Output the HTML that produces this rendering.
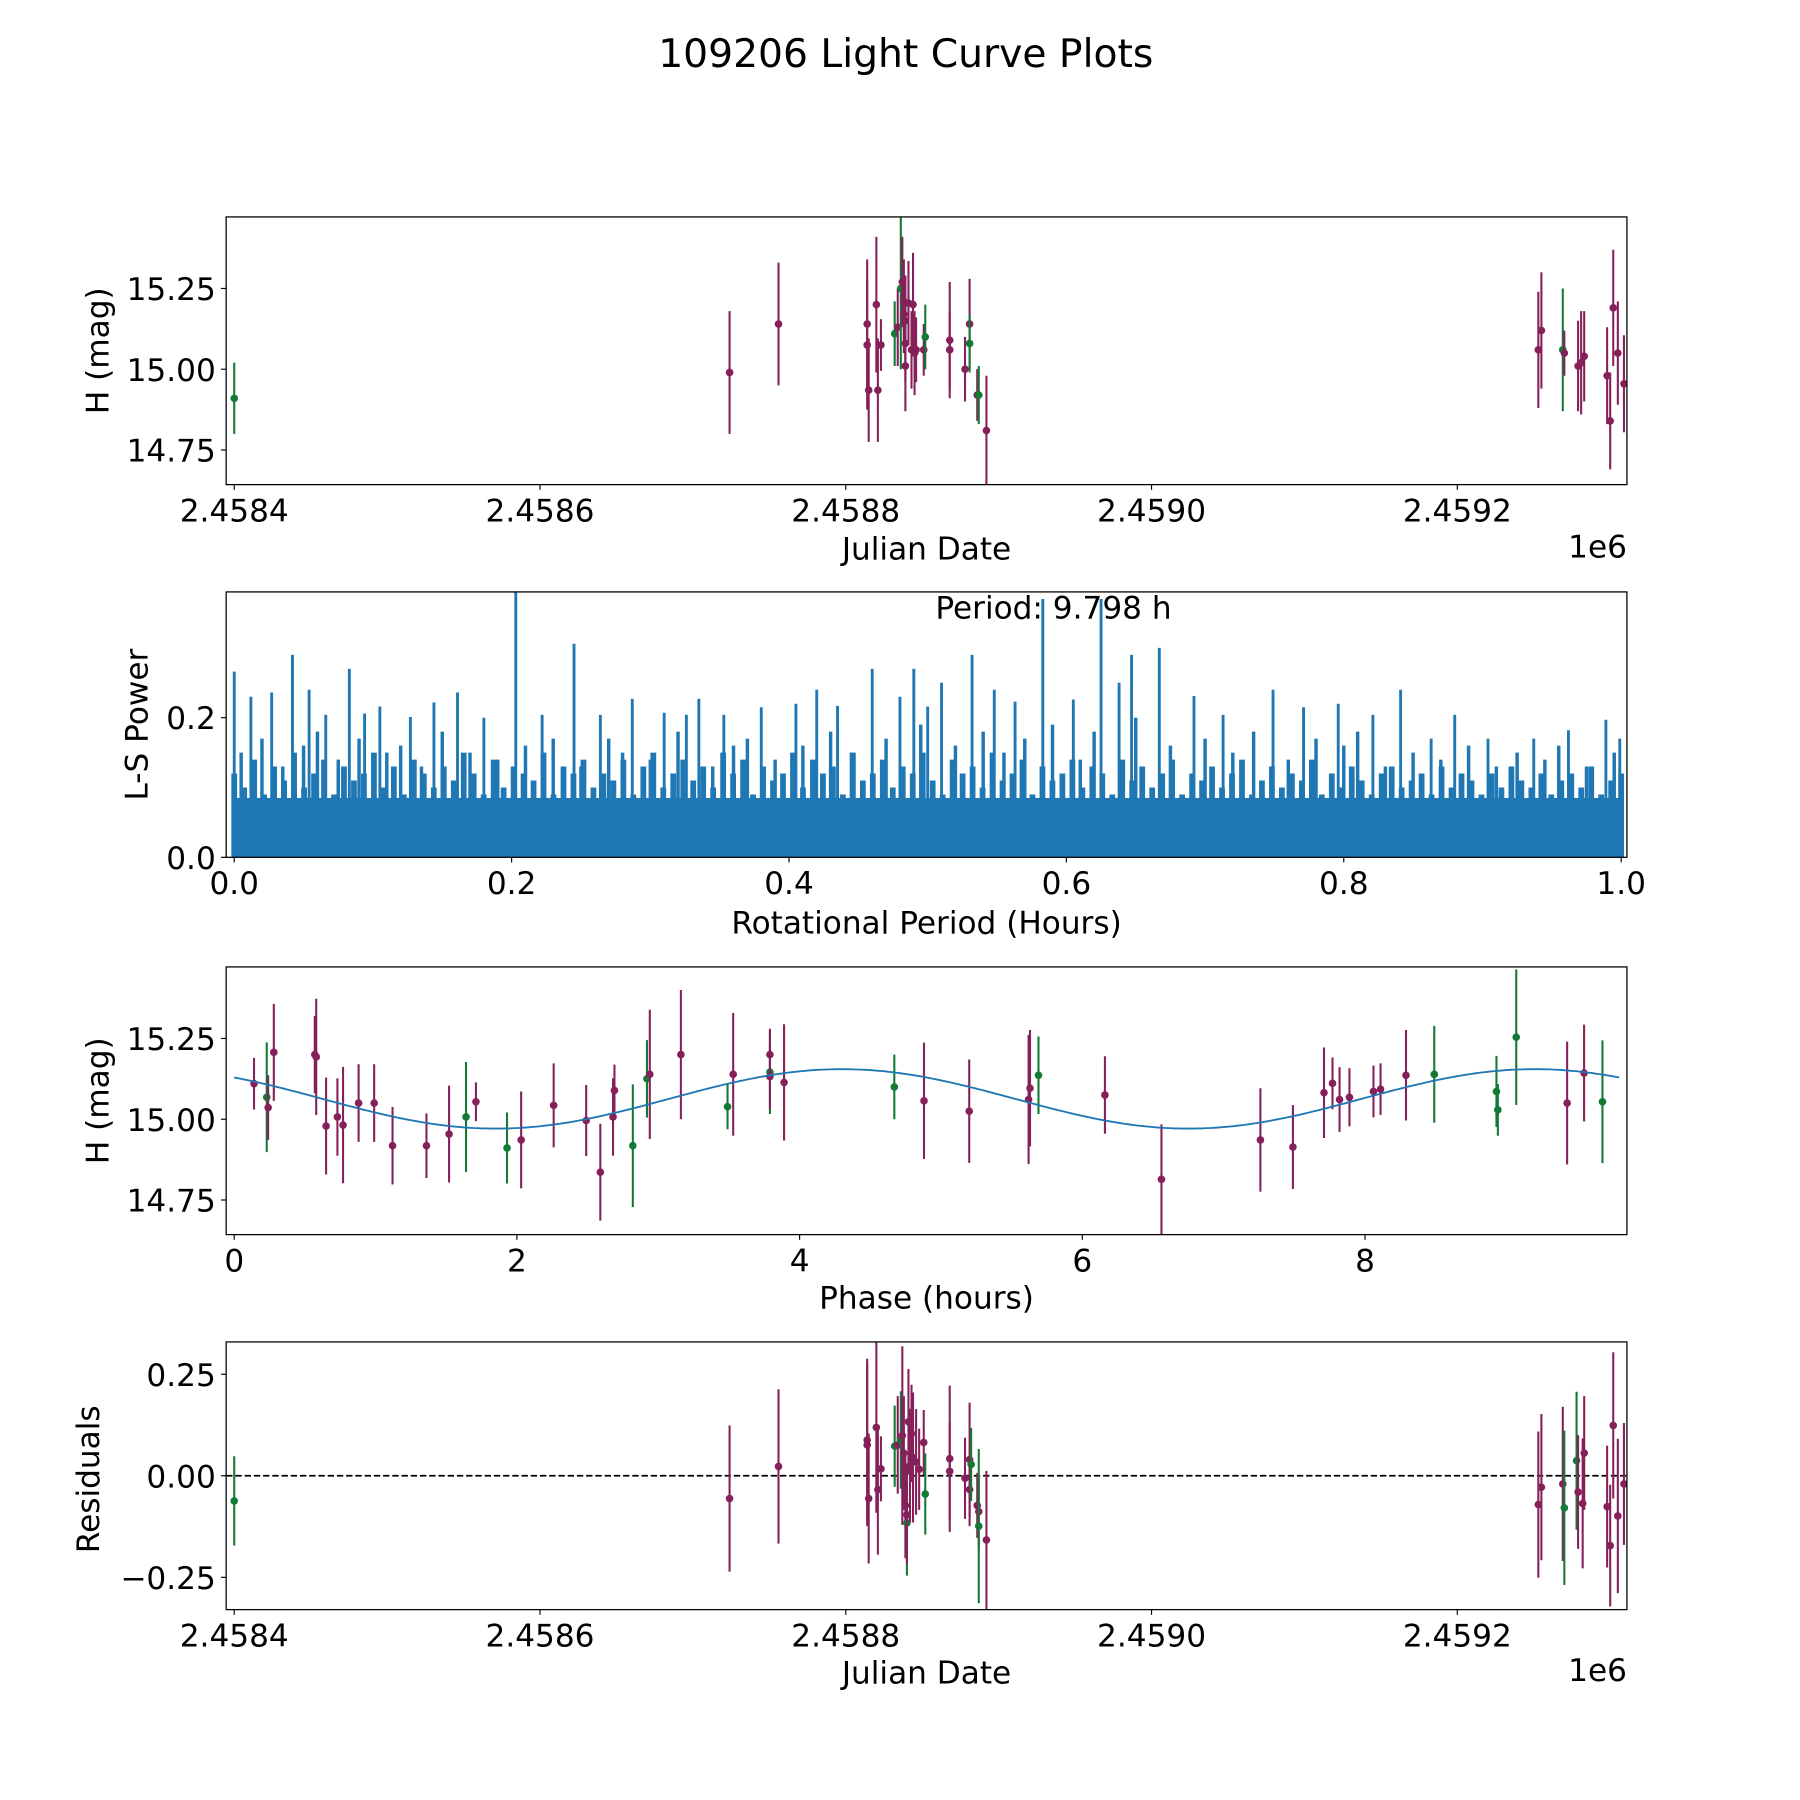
<!DOCTYPE html>
<html><head><meta charset="utf-8">
<style>
html,body{margin:0;padding:0;background:#fff;}
svg{display:block;font-family:"DejaVu Sans","Liberation Sans",sans-serif;}
</style></head>
<body>
<svg id="fig" width="1800" height="1800" viewBox="0 0 1560 1560" xmlns="http://www.w3.org/2000/svg">
<rect width="1560" height="1560" fill="#fff"/>
<text x="785" y="58" font-size="34" text-anchor="middle">109206 Light Curve Plots</text>
<g id="p1"></g>
<g id="p2"></g>
<g id="p3"></g>
<g id="p4"></g>
</svg>
<script>
// ---- Panel 1: light curve (JD offset days from 2458400, mag, err, filter) ----
const lcDays = [0,324,356,414,414,415,420,421,423,432,434,436,437,438,438,439,439,439,441,443,444,445,446,451,452,468,468,478,481,481,486,487,492,853,855,869,870,879,881,883,898,900,902,905,909];
const lcMag  = [14.91,14.99,15.14,15.14,15.075,14.935,15.20,14.935,15.075,15.11,15.13,15.25,15.27,15.21,15.17,15.15,15.08,15.01,15.205,15.06,15.20,15.05,15.06,15.06,15.10,15.09,15.06,15.00,15.14,15.08,14.92,14.92,14.81,15.06,15.12,15.06,15.05,15.01,15.02,15.04,14.98,14.84,15.19,15.05,14.955];
const lcErr  = [0.11,0.19,0.19,0.2,0.2,0.16,0.21,0.16,0.08,0.1,0.12,0.25,0.14,0.13,0.12,0.14,0.12,0.14,0.13,0.12,0.16,0.13,0.1,0.08,0.1,0.18,0.12,0.1,0.14,0.09,0.08,0.09,0.17,0.18,0.18,0.19,0.07,0.14,0.16,0.14,0.15,0.15,0.18,0.16,0.15];
const lcBand = ['g','p','p','p','p','p','p','p','p','g','p','g','p','p','p','p','p','p','p','p','p','p','p','p','g','p','p','p','p','g','p','g','p','p','p','g','p','p','p','p','p','p','p','p','p'];
const jdTicks = [0,200,400,600,800];
const jdTickLabels = ['2.4584','2.4586','2.4588','2.4590','2.4592'];
const magTicks = [15.25,15.00,14.75];
const magTickLabels = ['15.25','15.00','14.75'];

// ---- Panel 2: periodogram ----
const lsPeriod = [0.0,0.012,0.027,0.042,0.054,0.066,0.083,0.094,0.105,0.127,0.144,0.161,0.180,0.203,0.222,0.245,0.264,0.287,0.310,0.326,0.335,0.353,0.380,0.405,0.420,0.435,0.460,0.480,0.490,0.500,0.510,0.532,0.548,0.563,0.583,0.605,0.625,0.638,0.647,0.667,0.692,0.713,0.749,0.771,0.796,0.821,0.841,0.863,0.880,0.904,0.937,0.962,0.989,0.999];
const lsPower  = [0.266,0.23,0.236,0.29,0.24,0.204,0.27,0.206,0.216,0.201,0.222,0.236,0.20,0.38,0.204,0.306,0.204,0.227,0.207,0.204,0.227,0.204,0.215,0.22,0.24,0.217,0.27,0.23,0.27,0.216,0.25,0.29,0.24,0.223,0.37,0.226,0.37,0.25,0.29,0.30,0.231,0.204,0.24,0.215,0.22,0.204,0.24,0.17,0.204,0.17,0.17,0.182,0.197,0.17];
const lsMidPeriod = [0.005,0.02,0.035,0.05,0.06,0.075,0.09,0.11,0.12,0.135,0.15,0.17,0.19,0.21,0.23,0.25,0.27,0.28,0.30,0.32,0.345,0.36,0.37,0.39,0.41,0.43,0.445,0.47,0.495,0.52,0.54,0.555,0.57,0.59,0.61,0.62,0.65,0.675,0.70,0.72,0.735,0.76,0.78,0.80,0.81,0.83,0.85,0.87,0.89,0.91,0.925,0.945,0.955,0.975,0.995];
const lsMidPower  = [0.15,0.17,0.13,0.16,0.18,0.14,0.17,0.15,0.16,0.13,0.18,0.15,0.14,0.16,0.17,0.13,0.17,0.15,0.14,0.18,0.13,0.16,0.17,0.14,0.16,0.18,0.15,0.17,0.19,0.16,0.18,0.15,0.17,0.19,0.14,0.18,0.2,0.16,0.17,0.15,0.18,0.14,0.17,0.16,0.18,0.13,0.15,0.14,0.16,0.13,0.15,0.14,0.16,0.13,0.15];
const lsLowPower = [0.12,0.10,0.14,0.09,0.13,0.11,0.15,0.10,0.12,0.14,0.09,0.13,0.11,0.12,0.15,0.10,0.13,0.09,0.14,0.12,0.10,0.13,0.11,0.15,0.12,0.09,0.14,0.10,0.13,0.12,0.11,0.15,0.09,0.13,0.12,0.14,0.10,0.12,0.11,0.14,0.09,0.13,0.15,0.10,0.12,0.14,0.11,0.13,0.10,0.15,0.12,0.14,0.09,0.13,0.11,0.12,0.15,0.10,0.14,0.12,0.13,0.09,0.15,0.11,0.12,0.14,0.10,0.13,0.12,0.15,0.11,0.09,0.14,0.12,0.13,0.10,0.15,0.11,0.12,0.14,0.09,0.13,0.11,0.12,0.14,0.10,0.13,0.12,0.09,0.14,0.11,0.13,0.10,0.12,0.14,0.09,0.12,0.11,0.13,0.10,0.12,0.14,0.09,0.11,0.13,0.10,0.12,0.11,0.14,0.09,0.12,0.10,0.13,0.11,0.09,0.12,0.13,0.10,0.11,0.12,0.09,0.13,0.10,0.12,0.11,0.09,0.12,0.10,0.13,0.11,0.10,0.12,0.09,0.11,0.12,0.10,0.13,0.09,0.11,0.12];
const lsBandPower = 0.085;
const periodTicks = [0,0.2,0.4,0.6,0.8,1.0];
const periodTickLabels = ['0.0','0.2','0.4','0.6','0.8','1.0'];
const powerTicks = [0,0.2];
const powerTickLabels = ['0.0','0.2'];

// ---- Panel 3: phase folded ----
const phHours = [0.14,0.23,0.24,0.28,0.57,0.58,0.65,0.73,0.77,0.88,0.99,1.12,1.36,1.52,1.64,1.71,1.93,2.03,2.26,2.49,2.59,2.68,2.69,2.82,2.92,2.94,3.16,3.49,3.53,3.79,3.79,3.79,3.89,4.67,4.88,5.20,5.62,5.63,5.69,6.16,6.56,7.26,7.49,7.71,7.77,7.82,7.89,8.06,8.11,8.29,8.49,8.93,8.94,9.07,9.43,9.55,9.68];
const phMag = [15.11,15.068,15.036,15.207,15.2,15.193,14.979,15.007,14.982,15.05,15.05,14.918,14.918,14.954,15.007,15.054,14.911,14.936,15.043,14.996,14.836,15.007,15.089,14.918,15.125,15.139,15.2,15.039,15.139,15.146,15.2,15.132,15.114,15.1,15.057,15.025,15.061,15.096,15.136,15.075,14.814,14.936,14.914,15.082,15.111,15.061,15.068,15.086,15.093,15.136,15.139,15.086,15.029,15.254,15.05,15.143,15.054];
const phErr = [0.08,0.17,0.1,0.15,0.12,0.18,0.15,0.12,0.18,0.12,0.12,0.12,0.1,0.15,0.17,0.06,0.11,0.15,0.13,0.11,0.15,0.12,0.08,0.19,0.12,0.2,0.2,0.07,0.19,0.13,0.08,0.1,0.18,0.1,0.18,0.16,0.2,0.18,0.12,0.12,0.17,0.16,0.13,0.14,0.08,0.1,0.09,0.08,0.08,0.14,0.15,0.11,0.08,0.21,0.19,0.15,0.19];
const phBand = ['p','g','p','p','p','p','p','p','p','p','p','p','p','p','g','p','g','p','p','p','p','p','p','g','g','p','p','g','p','g','p','p','p','g','p','p','p','p','g','p','p','p','p','p','p','p','p','p','p','p','g','g','g','g','p','p','g'];
const phaseTicks = [0,2,4,6,8];
const phaseTickLabels = ['0','2','4','6','8'];
const fitMean = 15.063, fitAmp = 0.092, fitPeak = 4.3, fitHalfPeriod = 4.9;

// ---- Panel 4: residuals ----
const resDays = [0,324,356,414,414,415,420,421,423,432,434,436,437,438,439,440,440,441,442,443,444,446,448,451,452,468,468,478,481,481,482,486,487,487,492,853,855,869,870,878,879,882,883,898,900,902,905,909];
const resVal = [-0.062,-0.056,0.023,0.088,0.076,-0.056,0.119,-0.034,0.017,0.073,0.076,0.088,0.099,0.056,-0.073,-0.116,-0.096,0.133,0.025,0.104,0.045,0.034,0.016,0.082,-0.045,0.042,0.011,-0.006,0.04,-0.034,0.028,-0.073,-0.088,-0.124,-0.158,-0.071,-0.028,-0.02,-0.079,0.037,-0.04,-0.068,0.056,-0.076,-0.172,0.124,-0.099,-0.02];
const resErr = [0.11,0.18,0.19,0.2,0.2,0.16,0.21,0.16,0.08,0.1,0.12,0.12,0.22,0.14,0.13,0.13,0.12,0.13,0.14,0.12,0.16,0.13,0.1,0.08,0.1,0.18,0.12,0.1,0.14,0.09,0.09,0.08,0.09,0.19,0.17,0.18,0.18,0.19,0.19,0.17,0.14,0.16,0.14,0.15,0.15,0.18,0.19,0.15];
const resBand = ['g','p','p','p','p','p','p','p','p','g','p','g','p','p','p','g','p','p','p','p','p','p','p','p','g','p','p','p','p','p','g','p','p','g','p','p','p','p','g','g','p','p','p','p','p','p','p','p'];
const resTicks = [0.25,0,-0.25];
const resTickLabels = ['0.25','0.00','\u22120.25'];

const NS = 'http://www.w3.org/2000/svg';
const COL = {p:'#86205a', g:'#137a35'};
const FS = 27;
function mk(parent, tag, attrs, txt){
  const e = document.createElementNS(NS, tag);
  for (const k in attrs) e.setAttribute(k, attrs[k]);
  if (txt !== undefined) e.textContent = txt;
  parent.appendChild(e);
  return e;
}
const L = 196, R = 1410;
function linScale(d0,d1,r0,r1){ return v => r0 + (v-d0)/(d1-d0)*(r1-r0); }

function frame(g, top, bot){
  const f = mk(g,'rect',{x:L,y:top,width:R-L,height:bot-top,fill:'none',stroke:'#000','stroke-width':1.1});
  
  
}
function xTicks(g, bot, ticks, labels, xs){
  ticks.forEach((t,i)=>{
    const x = xs(t);
    const l = mk(g,'line',{x1:x,x2:x,y1:bot,y2:bot+4.5,stroke:'#000','stroke-width':1});
    
    
    const tx = mk(g,'text',{x:x,y:bot+32,'font-size':FS,'text-anchor':'middle'},labels[i]);
    
    
  });
}
function yTicks(g, ticks, labels, ys){
  ticks.forEach((t,i)=>{
    const y = ys(t);
    const l = mk(g,'line',{x1:L-4.5,x2:L,y1:y,y2:y,stroke:'#000','stroke-width':1});
    
    
    const tx = mk(g,'text',{x:L-9,y:y+10,'font-size':FS,'text-anchor':'end'},labels[i]);
    
    
  });
}
function labels(g, xl, xly, yl, ylx, ymid){
  const a = mk(g,'text',{x:803,y:xly,'font-size':FS,'text-anchor':'middle'},xl);
  
  
  const b = mk(g,'text',{x:ylx,y:ymid,'font-size':FS,'text-anchor':'middle',transform:`rotate(-90 ${ylx} ${ymid})`},yl);
  
  
}
function offsetLabel(g, y){
  const t = mk(g,'text',{x:R,y:y,'font-size':FS,'text-anchor':'end'},'1e6');
  
  
}
function errPoints(g, xsArr, ysArr, errs, bands, xs, ys, top, bot, name){
  xsArr.forEach((v,i)=>{
    const x = xs(v), y = ys(ysArr[i]);
    let y1 = Math.max(top, ys(ysArr[i]+errs[i])), y2 = Math.min(bot, ys(ysArr[i]-errs[i]));
    const c = COL[bands[i]];
    const l = mk(g,'line',{x1:x,x2:x,y1:y1,y2:y2,stroke:c,'stroke-width':1.8});
    
    
    const p = mk(g,'circle',{cx:x,cy:y,r:3.3,fill:c});
    
    
  });
}

// Panel 1
(function(){
  const g = document.getElementById('p1');
  const top=188, bot=420;
  const xs = linScale(0,200,203,468), ys = linScale(15.25,15.00,250,320);
  const clip = mk(g,'clipPath',{id:'c1'}); mk(clip,'rect',{x:L,y:top,width:R-L,height:bot-top});
  const d = mk(g,'g',{'clip-path':'url(#c1)'});
  errPoints(d, lcDays, lcMag, lcErr, lcBand, xs, ys, top-5, bot+5, 'light-curve-point');
  frame(g, top, bot);
  xTicks(g, bot, jdTicks, jdTickLabels, xs);
  yTicks(g, magTicks, magTickLabels, ys);
  labels(g, 'Julian Date', 485, 'H (mag)', 94, 304);
  offsetLabel(g, 483);
})();

// Panel 2
(function(){
  const g = document.getElementById('p2');
  const top=513, bot=743;
  const xs = linScale(0,1,203,1405), ys = linScale(0,0.2,743,622);
  const clip = mk(g,'clipPath',{id:'c2'}); mk(clip,'rect',{x:L,y:top,width:R-L,height:bot-top});
  const d = mk(g,'g',{'clip-path':'url(#c2)'});
  const band = mk(d,'rect',{x:xs(0),y:ys(lsBandPower),width:xs(1)-xs(0),height:ys(0)-ys(lsBandPower),fill:'#1f77b4'});
  
  
  const lowStep = 1/(lsLowPower.length-1);
  lsLowPower.forEach((pw,i)=>{
    const x = xs(i*lowStep);
    const l = mk(d,'line',{x1:x,x2:x,y1:ys(0),y2:ys(pw),stroke:'#1f77b4','stroke-width':5});
    
    
  });
  lsMidPeriod.forEach((p,i)=>{
    const x = xs(p);
    const l = mk(d,'line',{x1:x,x2:x,y1:ys(0),y2:ys(lsMidPower[i]),stroke:'#1f77b4','stroke-width':3});
    
    
  });
  lsPeriod.forEach((p,i)=>{
    const x = xs(p);
    const l = mk(d,'line',{x1:x,x2:x,y1:ys(0),y2:ys(lsPower[i]),stroke:'#1f77b4','stroke-width':2.5});
    
    
  });
  frame(g, top, bot);
  xTicks(g, bot, periodTicks, periodTickLabels, xs);
  yTicks(g, powerTicks, powerTickLabels, ys);
  labels(g, 'Rotational Period (Hours)', 809, 'L-S Power', 128, 628);
  const pt = mk(g,'text',{x:913,y:536,'font-size':FS,'text-anchor':'middle'},'Period: 9.798 h');
  
  
})();

// Panel 3
(function(){
  const g = document.getElementById('p3');
  const top=838, bot=1070;
  const xs = linScale(0,2,203,448), ys = linScale(15.25,15.00,900,970);
  const clip = mk(g,'clipPath',{id:'c3'}); mk(clip,'rect',{x:L,y:top,width:R-L,height:bot-top});
  const d = mk(g,'g',{'clip-path':'url(#c3)'});
  errPoints(d, phHours, phMag, phErr, phBand, xs, ys, top-5, bot+5, 'phase-point');
  let pts = [];
  for (let k=0;k<=400;k++){
    const ph = 9.798*k/400;
    const m = fitMean + fitAmp*Math.cos(2*Math.PI*(ph-fitPeak)/fitHalfPeriod);
    pts.push(xs(ph).toFixed(1)+','+ys(m).toFixed(1));
  }
  const fit = mk(d,'polyline',{points:pts.join(' '),fill:'none',stroke:'#1f77b4','stroke-width':1.6});
  
  
  frame(g, top, bot);
  xTicks(g, bot, phaseTicks, phaseTickLabels, xs);
  yTicks(g, magTicks, magTickLabels, ys);
  labels(g, 'Phase (hours)', 1134, 'H (mag)', 94, 954);
})();

// Panel 4
(function(){
  const g = document.getElementById('p4');
  const top=1163, bot=1395;
  const xs = linScale(0,200,203,468), ys = linScale(0.25,0,1191,1279);
  const clip = mk(g,'clipPath',{id:'c4'}); mk(clip,'rect',{x:L,y:top,width:R-L,height:bot-top});
  const d = mk(g,'g',{'clip-path':'url(#c4)'});
  const z = mk(d,'line',{x1:L,x2:R,y1:ys(0),y2:ys(0),stroke:'#000','stroke-width':1.5,'stroke-dasharray':'5.5,2.5'});
  
  
  errPoints(d, resDays, resVal, resErr, resBand, xs, ys, top-5, bot+5, 'residual-point');
  frame(g, top, bot);
  xTicks(g, bot, jdTicks, jdTickLabels, xs);
  yTicks(g, resTicks, resTickLabels, ys);
  labels(g, 'Julian Date', 1459, 'Residuals', 86, 1282);
  offsetLabel(g, 1457);
})();
</script>
</body></html>
